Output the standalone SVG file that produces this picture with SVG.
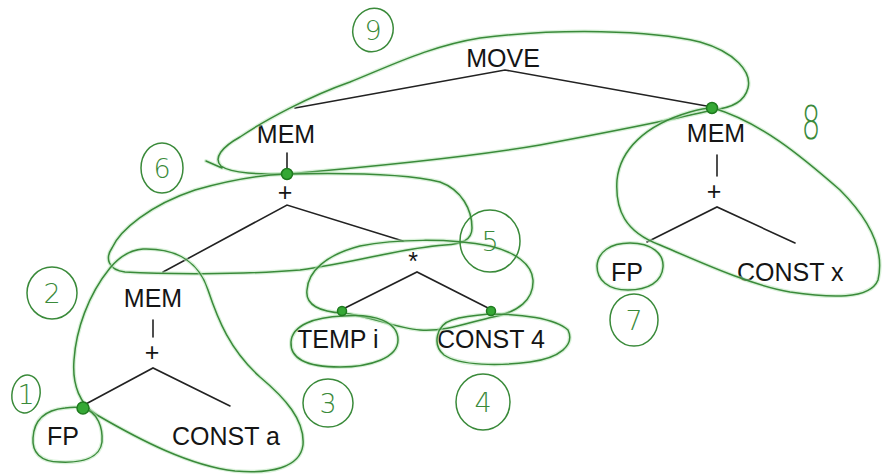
<svg xmlns="http://www.w3.org/2000/svg" width="882" height="474" viewBox="0 0 882 474">
  <style>
    .lbl { font-family: "Liberation Sans", Arial, sans-serif; font-size: 25px; fill: #151515; }
    .op { font-family: "Liberation Sans", Arial, sans-serif; font-size: 25px; fill: #151515; text-anchor: middle; }
    .edge { stroke: #222; stroke-width: 1.6; fill: none; stroke-linecap: round; }
    .halo { stroke: #b9e6b9; stroke-width: 4; fill: none; opacity: 0.55; stroke-linecap: round; stroke-linejoin: round; }
    .ink { stroke: #3a8a3a; stroke-width: 1.5; fill: none; stroke-linecap: round; stroke-linejoin: round; }
    .num { font-family: "DejaVu Sans", "Liberation Sans", sans-serif; font-size: 27px; fill: #3a8a3a; text-anchor: middle; font-weight: 300; }
    .dot { fill: #35a835; stroke: #1f7a1f; stroke-width: 1.5; }
  </style>
  <defs>
    <path id="l9" d="M 287,174 C 260,174 232,174 221,166 C 213,158 222,147 240,137 C 265,120 310,96 350,82 C 390,66 430,46 480,38 C 560,28 650,30 700,42 C 735,52 752,72 748,88 C 745,100 735,108 712,110 C 680,118 620,130 540,145 C 470,157 380,166 287,174 Z M 206,161 L 222,168"/>
    <path id="l6" d="M 287,174 C 330,173 400,172 440,182 C 462,190 472,210 472,228 C 472,240 462,244 445,245 C 400,248 360,262 300,270 C 240,275 160,274 125,272 C 108,270 105,258 112,248 C 120,230 150,205 195,190 C 230,180 260,175 287,174 Z"/>
    <path id="l5" d="M 343,313 C 320,312 305,305 307,290 C 308,272 325,255 360,246 C 395,239 450,238 490,246 C 515,252 532,264 533,280 C 534,300 518,312 493,317 C 470,322 445,332 420,330 C 395,328 370,316 343,313 Z"/>
    <path id="l3" d="M 343,316 C 375,313 398,322 398,340 C 398,358 370,367 340,367 C 305,367 290,358 291,342 C 292,325 315,317 343,316 Z"/>
    <path id="l4" d="M 490,314 C 520,314 555,318 568,330 C 575,345 560,358 530,362 C 500,366 460,366 444,355 C 432,345 436,325 452,320 C 465,316 478,315 490,314 Z"/>
    <path id="l2" d="M 143,249 C 180,248 200,265 208,290 C 218,320 230,350 260,377 C 285,398 305,420 303,445 C 300,468 270,474 235,471 C 190,466 140,440 97,415 C 80,405 72,385 74,360 C 76,330 88,295 110,268 C 120,256 130,250 143,249 Z"/>
    <path id="l1" d="M 83,408 C 98,412 103,428 102,442 C 100,458 82,463 60,462 C 40,462 32,452 33,438 C 34,420 45,410 65,408 C 72,407 78,407 83,408 Z"/>
    <path id="l8" d="M 713,108 C 760,122 800,155 840,190 C 870,220 885,250 878,280 C 870,300 830,298 790,292 C 750,285 700,262 660,245 C 625,232 615,210 617,180 C 620,150 645,125 690,112 C 700,109 707,108 713,108 Z"/>
    <path id="l7" d="M 630,243 C 652,243 664,254 663,267 C 662,282 648,290 628,290 C 608,290 597,280 597,266 C 598,252 610,243 630,243 Z"/>
  </defs>
  <rect width="882" height="474" fill="#ffffff"/>

  <!-- tree edges -->
  <g id="connectors">
    <polyline class="edge" points="295,108 505,70 712,107"/>
    <line class="edge" x1="287" y1="153" x2="287" y2="168"/>
    <polyline class="edge" points="163,272 287,205 403,241"/>
    <polyline class="edge" points="341,310 417,272 492,310"/>
    <line class="edge" x1="153" y1="320" x2="153" y2="337"/>
    <polyline class="edge" points="84,405 153,368 230,406"/>
    <line class="edge" x1="717" y1="155" x2="717" y2="176"/>
    <polyline class="edge" points="647,242 717,207 795,243"/>
  </g>

  <!-- tree nodes -->
  <g id="move"><text class="op" x="503" y="67">MOVE</text></g>
  <g id="mem-left"><text class="op" x="286" y="143">MEM</text></g>
  <g id="plus-left"><text class="op" x="285" y="201">+</text></g>
  <g id="mem-inner"><text class="op" x="153" y="307">MEM</text></g>
  <g id="plus-inner"><text class="op" x="152" y="361">+</text></g>
  <g id="fp-left"><text class="lbl" x="47" y="445">FP</text></g>
  <g id="const-a"><text class="lbl" x="172" y="445">CONST a</text></g>
  <g id="times"><text class="op" x="413" y="270">*</text></g>
  <g id="temp-i"><text class="lbl" x="297" y="348">TEMP i</text></g>
  <g id="const-4"><text class="lbl" x="437" y="348">CONST 4</text></g>
  <g id="mem-right"><text class="op" x="716" y="142">MEM</text></g>
  <g id="plus-right"><text class="op" x="714" y="200">+</text></g>
  <g id="fp-right"><text class="lbl" x="611" y="281">FP</text></g>
  <g id="const-x"><text class="lbl" x="737" y="281">CONST x</text></g>

  <!-- hand-drawn tiling marks -->
  <g id="tiles">
    <use href="#l9" class="halo"/><use href="#l9" class="ink"/>
    <use href="#l6" class="halo"/><use href="#l6" class="ink"/>
    <use href="#l5" class="halo"/><use href="#l5" class="ink"/>
    <use href="#l3" class="halo"/><use href="#l3" class="ink"/>
    <use href="#l4" class="halo"/><use href="#l4" class="ink"/>
    <use href="#l2" class="halo"/><use href="#l2" class="ink"/>
    <use href="#l1" class="halo"/><use href="#l1" class="ink"/>
    <use href="#l8" class="halo"/><use href="#l8" class="ink"/>
    <use href="#l7" class="halo"/><use href="#l7" class="ink"/>

    <circle class="dot" cx="287" cy="174" r="5.5"/>
    <circle class="dot" cx="712" cy="108" r="5.5"/>
    <circle class="dot" cx="83" cy="408" r="6"/>
    <circle class="dot" cx="342" cy="311" r="4.5"/>
    <circle class="dot" cx="491" cy="311" r="4.5"/>

    <g id="step-numbers">
      <ellipse class="ink" cx="373" cy="30" rx="20" ry="22" transform="rotate(20 373 30)"/>
      <text class="num" x="373" y="40">9</text>
      <ellipse class="ink" cx="162" cy="168" rx="21" ry="25"/>
      <text class="num" x="162" y="178">6</text>
      <ellipse class="ink" cx="52" cy="293" rx="25" ry="26"/>
      <text class="num" x="52" y="303">2</text>
      <ellipse class="ink" cx="26" cy="394" rx="14" ry="19" transform="rotate(10 26 394)"/>
      <text class="num" x="26" y="404">1</text>
      <ellipse class="ink" cx="490" cy="241" rx="30" ry="31"/>
      <text class="num" x="490" y="251">5</text>
      <ellipse class="ink" cx="328" cy="403" rx="25" ry="24"/>
      <text class="num" x="328" y="413">3</text>
      <ellipse class="ink" cx="483" cy="402" rx="27" ry="28"/>
      <text class="num" x="483" y="412">4</text>
      <ellipse class="ink" cx="634" cy="320" rx="24" ry="26"/>
      <text class="num" x="634" y="330">7</text>
      <text class="num" x="0" y="0" transform="translate(811 139) scale(0.65 1)" style="font-size:46px">8</text>
    </g>
  </g>
</svg>
